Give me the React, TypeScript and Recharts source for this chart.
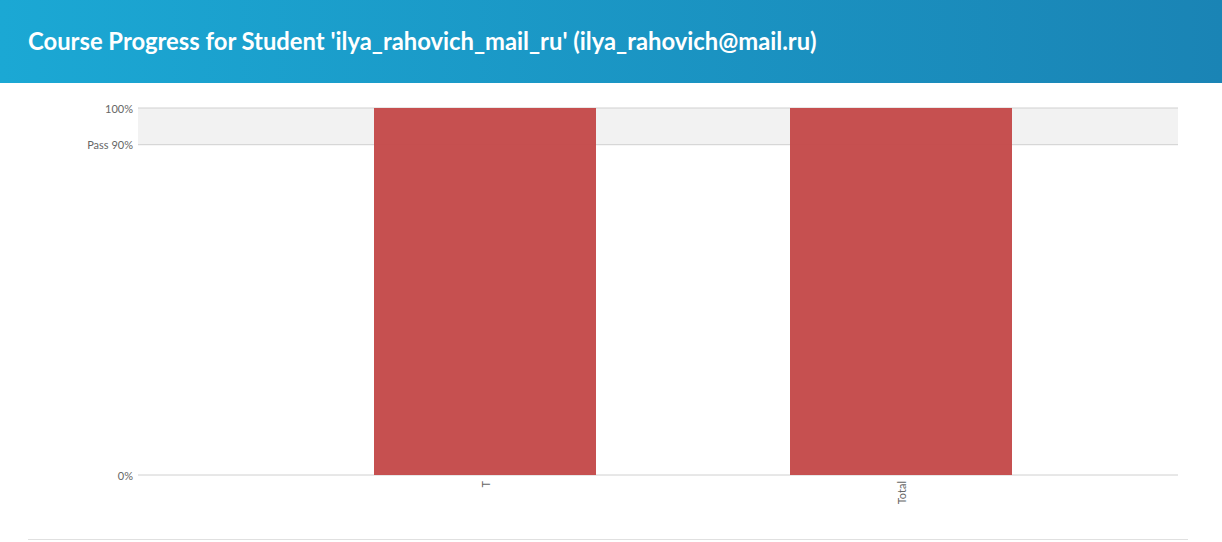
import React from 'react';
import { BarChart, Bar, XAxis, YAxis, CartesianGrid } from 'recharts';

const categories = ['T', 'Total'];
const progress = [100, 100];
const yTicks = [0, 90, 100];
const yTickLabels: Record<number, string> = { 0: '0%', 90: 'Pass 90%', 100: '100%' };
const title = "Course Progress for Student 'ilya_rahovich_mail_ru' (ilya_rahovich@mail.ru)";

const data = categories.map((c, i) => ({ name: c, value: progress[i] }));
const FONT = "Lato, 'Noto Sans', sans-serif";

const XTick = (props: any) => {
  const { x, y, payload } = props;
  return (
    <text x={x} y={y} transform={`rotate(-90 ${x} ${y})`} textAnchor="end" dominantBaseline="central"
      fontSize={11} fill="#666" fontFamily={FONT}>
      {payload.value}
    </text>
  );
};

const YTick = (props: any) => {
  const { x, y, payload } = props;
  return (
    <text x={x} y={y} textAnchor="end" dominantBaseline="central" fontSize={11} fill="#666" fontFamily={FONT}>
      {yTickLabels[payload.value] ?? `${payload.value}%`}
    </text>
  );
};

export default function App() {
  return (
    <div style={{ position: 'absolute', left: 0, top: 0, width: 1222, height: 542, background: '#fff', overflow: 'hidden' }}>
      <div style={{
        position: 'absolute', left: 0, top: 0, width: 1222, height: 83,
        background: 'linear-gradient(to right, #1ba8d4, #1a84b5)',
      }}>
        <div style={{
          position: 'absolute', left: 28, top: 0, height: 82, lineHeight: '82px',
          color: '#fff', fontFamily: FONT, fontWeight: 700, fontSize: 23.8,
          whiteSpace: 'nowrap',
        }}>{title}</div>
      </div>
      <div style={{ position: 'absolute', left: 0, top: 0 }}>
        <BarChart width={1222} height={542} data={data}
          margin={{ top: 108, right: 44, bottom: 17, left: 78 }} barSize={222}>
          <CartesianGrid vertical={false} stroke="#d0d0d0" horizontalFill={['#f2f2f2', '#ffffff']} fillOpacity={1} />
          <XAxis dataKey="name" axisLine={false} tickLine={false} height={50} tickSize={0} tickMargin={6}
            padding={{ left: 139, right: 69 }} tick={<XTick />} interval={0} />
          <YAxis type="number" domain={[0, 100]} ticks={yTicks} width={60} axisLine={false} tickLine={false}
            tickSize={0} tickMargin={5} interval={0} tick={<YTick />} />
          <Bar dataKey="value" fill="#c44a4a" fillOpacity={0.97} isAnimationActive={false} />
        </BarChart>
      </div>
      <div style={{ position: 'absolute', left: 28, top: 539, width: 1160, height: 1, background: '#e0e0e0' }} />
    </div>
  );
}
